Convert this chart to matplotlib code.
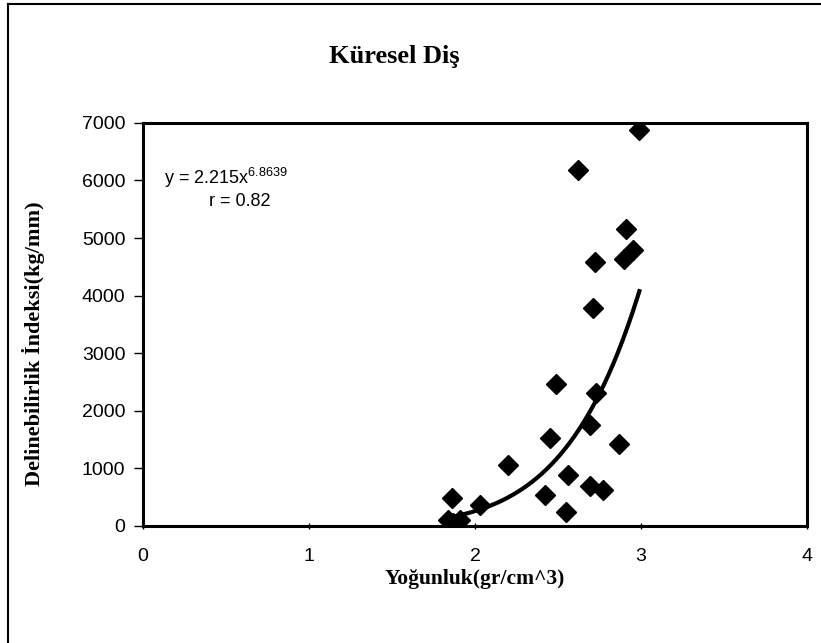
import numpy as np
import matplotlib.pyplot as plt
from matplotlib.lines import Line2D

# Yoğunluk (gr/cm^3) vs Delinebilirlik İndeksi (kg/mm)
density = [2.99, 2.62, 2.91, 2.95, 2.90, 2.72, 2.71, 2.49, 2.73, 2.69,
           2.45, 2.87, 2.20, 2.56, 2.69, 2.77, 2.42, 1.86, 2.03, 2.55,
           1.84, 1.87, 1.91]
index = [6880, 6180, 5150, 4790, 4640, 4580, 3790, 2460, 2310, 1760,
         1530, 1420, 1060, 880, 700, 620, 530, 490, 365, 235,
         110, 45, 100]

# power trendline shown on the chart: y = a * x^b
fit_a = 2.215
fit_b = 6.8639
fit_r = 0.82

plt.rcParams['font.family'] = ['Liberation Sans', 'DejaVu Sans']
plt.rcParams['mathtext.fontset'] = 'custom'
plt.rcParams['mathtext.rm'] = 'Liberation Sans'
plt.rcParams['mathtext.it'] = 'Liberation Sans'

fig = plt.figure(figsize=(8.21, 6.43), dpi=100)
ax = fig.add_axes([0.174, 0.182, 0.809, 0.627])

ax.plot(density, index, 'D', color='black', ms=10, zorder=3)

xs = np.linspace(min(density), max(density), 200)
ax.plot(xs, fit_a * xs ** fit_b, color='black', lw=3, zorder=2)

ax.set_xlim(0, 4)
ax.set_ylim(0, 7000)
ax.set_xticks([0, 1, 2, 3, 4])
ax.set_yticks(range(0, 7001, 1000))
ax.tick_params(axis='both', labelsize=14, width=1, color='black')
ax.tick_params(axis='x', direction='inout', length=5, pad=13)
ax.tick_params(axis='y', direction='out', length=6.5, pad=6)
for s in ax.spines.values():
    s.set_linewidth(2.2)

ax.set_xlabel('Yoğunluk(gr/cm^3)', fontsize=15.5, fontweight='bold',
              family='Liberation Serif', labelpad=3)
ax.set_ylabel('Delinebilirlik İndeksi(kg/mm)', fontsize=16, fontweight='bold',
              family='Liberation Serif')
ax.yaxis.set_label_coords(-0.148, 0.452)

ax.text(0.13, 6050, r'y = 2.215x$^{6.8639}$', fontsize=13, ha='left', va='center')
ax.text(0.4, 5630, 'r = %.2f' % fit_r, fontsize=13, ha='left', va='center')

fig.text(0.48, 0.912, 'Küresel Diş', fontsize=19, fontweight='bold',
         family='Liberation Serif', ha='center', va='center')

# page frame: only top and left edges show in the crop
fig.lines.append(Line2D([0.01, 0.01], [0.0, 0.994], transform=fig.transFigure,
                        color='black', lw=1.5))
fig.lines.append(Line2D([0.01, 1.0], [0.994, 0.994], transform=fig.transFigure,
                        color='black', lw=1.5))

fig.savefig('out.png', dpi=100)
